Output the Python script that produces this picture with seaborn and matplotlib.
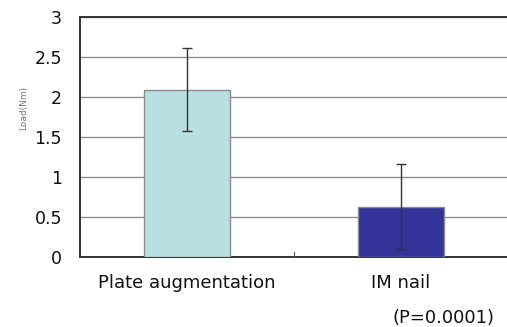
import pandas as pd
import numpy as np
import matplotlib.pyplot as plt
import seaborn as sns

# values
groups = ['Plate augmentation', 'IM nail']
load_mean = [2.09, 0.63]
load_sd = [0.52, 0.53]
bar_colors = ['#badfe2', '#333399']
y_ticks = [0, 0.5, 1, 1.5, 2, 2.5, 3]
y_tick_labels = ['0', '0.5', '1', '1.5', '2', '2.5', '3']

df = pd.DataFrame({'group': groups, 'load': load_mean, 'sd': load_sd})

sns.set_style('white')
plt.rcParams['font.family'] = ['DejaVu Sans']

fig = plt.figure(figsize=(5.07, 3.27), dpi=100)
ax = fig.add_axes([80 / 507, 70 / 327, 428 / 507, 240 / 327])

sns.barplot(data=df, x='group', y='load', hue='group', palette=bar_colors,
            saturation=1, width=0.405, edgecolor='#8a8a8a', linewidth=1,
            legend=False, ax=ax, zorder=3)
ax.errorbar(range(len(groups)), df['load'], yerr=df['sd'], fmt='none',
            ecolor='#333333', elinewidth=1, capsize=3.5, capthick=1, zorder=4)

ax.set_xlim(-0.5, 1.5)
ax.set_ylim(0, 3)
ax.set_yticks(y_ticks)
ax.set_yticklabels(y_tick_labels, fontsize=12.5)
ax.yaxis.grid(True, color='#909090', linewidth=1, zorder=0)
ax.set_axisbelow(True)
ax.tick_params(axis='y', length=0, pad=13, colors='#111111')
ax.tick_params(axis='x', length=0, pad=12, labelsize=13, colors='#111111')
ax.set_xlabel('')
ax.set_ylabel('Load(Nm)', fontsize=6.5, color='#777777')
ax.yaxis.set_label_coords(-0.122, 0.62)

# small middle tick on the base line
ax.plot([0.5, 0.5], [0, 0.06], color='#555555', linewidth=0.8, zorder=5)

for side in ['left', 'bottom', 'top']:
    ax.spines[side].set_color('#333333')
    ax.spines[side].set_linewidth(1.4)
ax.spines['right'].set_visible(False)

fig.text(443 / 507, 1 - 318 / 327, '(P=0.0001)', fontsize=13,
         color='#111111', ha='center', va='center')

fig.savefig('out.png', dpi=100)
